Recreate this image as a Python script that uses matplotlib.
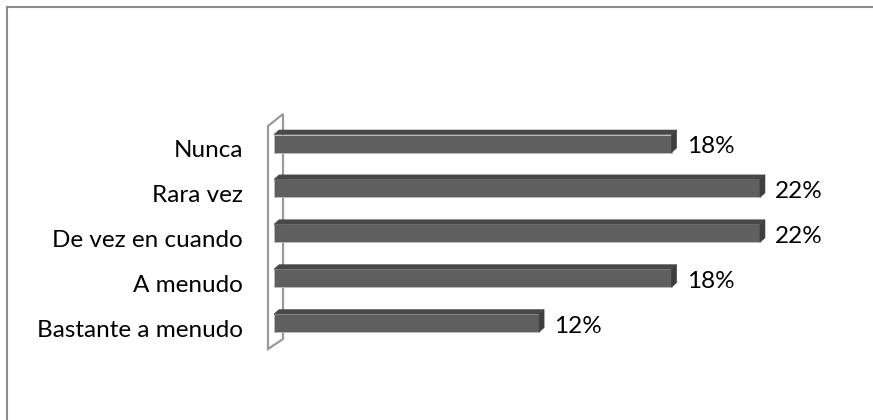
import matplotlib
matplotlib.use("Agg")
import matplotlib.pyplot as plt
from matplotlib.patches import Polygon
from matplotlib.lines import Line2D

categories = ["Nunca", "Rara vez", "De vez en cuando", "A menudo", "Bastante a menudo"]
values = [18, 22, 22, 18, 12]
labels = ["18%", "22%", "22%", "18%", "12%"]

plt.rcParams['font.family'] = ['Lato', 'DejaVu Sans']

W, H = 873, 420
fig = plt.figure(figsize=(W / 100, H / 100), dpi=100)
fig.patch.set_facecolor('white')

# pixel geometry
px_per_x = 22.09
px_per_y = 44.9
x0_px = 274.0
y0_px = 143.5
xmin, xmax = -1.0, 27.0
ymin, ymax = -1.0, 5.0
left = (x0_px + xmin * px_per_x) / W
width = (xmax - xmin) * px_per_x / W
top_px = y0_px + ymin * px_per_y
bot_px = y0_px + ymax * px_per_y
ax = fig.add_axes([left, (H - bot_px) / H, width, (bot_px - top_px) / H])
ax.set_xlim(xmin, xmax)
ax.set_ylim(ymax, ymin)
ax.axis('off')

dx = 5 / px_per_x
dy = 4.5 / px_per_y
h = 18 / px_per_y

# back wall (thin 3D panel)
wall_front_x = -6 / px_per_x
wall_back_x = 9 / px_per_x
wall = Polygon([(wall_front_x, -0.39), (wall_back_x, -0.657), (wall_back_x, 4.354),
                (wall_front_x, 4.577)], closed=True, facecolor='white',
               edgecolor='#9a9a9a', linewidth=1.6, zorder=1)
ax.add_patch(wall)

front_c = '#5f5f5f'
top_c = '#474747'
side_c = '#3e3e3e'
edge_c = '#bdbdbd'

ys = list(range(len(categories)))
ax.barh(ys, values, height=h, color=front_c, edgecolor=edge_c, linewidth=0.6, zorder=3)
for y, v in zip(ys, values):
    yt = y - h / 2
    top = Polygon([(0, yt), (dx, yt - dy), (v + dx, yt - dy), (v, yt)], closed=True,
                  facecolor=top_c, edgecolor=top_c, linewidth=0.4, zorder=3)
    side = Polygon([(v, yt), (v + dx, yt - dy), (v + dx, yt + h - dy), (v, yt + h)],
                   closed=True, facecolor=side_c, edgecolor=side_c, linewidth=0.4, zorder=3)
    ax.add_patch(top)
    ax.add_patch(side)

fs = 17.5
for y, cat in zip(ys, categories):
    ax.text((243 - x0_px) / px_per_x, y + 0.30, cat, ha='right', va='baseline',
            fontsize=fs, color='#000000', clip_on=False)
for y, v, lab in zip(ys, values, labels):
    ax.text(v + 15 / px_per_x, y + 0.21, lab, ha='left', va='baseline',
            fontsize=fs, color='#000000', clip_on=False)

# outer chart frame (top and left visible)
fig.add_artist(Line2D([6.5 / W, 6.5 / W], [0, 1 - 7 / H], transform=fig.transFigure,
                      color='#8c8c8c', linewidth=1.5))
fig.add_artist(Line2D([6.5 / W, 1], [1 - 7 / H, 1 - 7 / H], transform=fig.transFigure,
                      color='#8c8c8c', linewidth=1.5))

fig.savefig('out.png', dpi=100, facecolor='white')
